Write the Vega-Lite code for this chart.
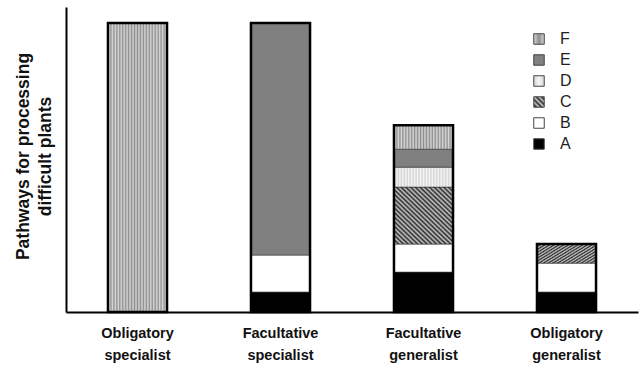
{
  "$schema": "https://vega.github.io/schema/vega-lite/v6.json",
  "width": 572,
  "height": 305,
  "autosize": {"type": "none"},
  "padding": {"left": 66, "top": 7, "right": 2, "bottom": 58},
  "background": "white",
  "config": {"view": {"stroke": null}, "font": "Liberation Sans"},
  "data": {
    "values": [
      {"group": "Obligatory specialist", "part": "F", "value": 10},
      {"group": "Facultative specialist", "part": "A", "value": 0.69},
      {"group": "Facultative specialist", "part": "B", "value": 1.28},
      {"group": "Facultative specialist", "part": "E", "value": 8.03},
      {"group": "Facultative generalist", "part": "A", "value": 1.38},
      {"group": "Facultative generalist", "part": "B", "value": 0.97},
      {"group": "Facultative generalist", "part": "C", "value": 1.97},
      {"group": "Facultative generalist", "part": "D", "value": 0.69},
      {"group": "Facultative generalist", "part": "E", "value": 0.62},
      {"group": "Facultative generalist", "part": "F", "value": 0.83},
      {"group": "Obligatory generalist", "part": "A", "value": 0.69},
      {"group": "Obligatory generalist", "part": "B", "value": 1.0},
      {"group": "Obligatory generalist", "part": "C", "value": 0.66}
    ]
  },
  "encoding": {
    "x": {
      "field": "group",
      "type": "nominal",
      "sort": ["Obligatory specialist", "Facultative specialist", "Facultative generalist", "Obligatory generalist"],
      "scale": {"paddingInner": 0.587, "paddingOuter": 0.2935},
      "axis": {
        "title": null,
        "labelAngle": 0,
        "ticks": false,
        "domainColor": "#000",
        "domainWidth": 2,
        "labelFontSize": 14.5,
        "labelFontWeight": "bold",
        "labelColor": "#111",
        "labelPadding": 14,
        "labelLineHeight": 22,
        "labelLimit": 0,
        "labelExpr": "split(datum.label, ' ')"
      }
    }
  },
  "layer": [
    {
      "mark": {"type": "bar", "stroke": "#333", "strokeWidth": 0.6},
      "encoding": {
        "y": {
          "field": "value",
          "type": "quantitative",
          "stack": "zero",
          "title": ["Pathways for processing", "difficult plants"],
          "scale": {"domain": [0, 10.55], "nice": false},
          "axis": {
            "labels": false,
            "ticks": false,
            "grid": false,
            "domainColor": "#000",
            "domainWidth": 2,
            "titleFontSize": 17.5,
            "titleFontWeight": "bold",
            "titleColor": "#111",
            "titlePadding": 12,
            "titleLineHeight": 22,
            "titleY": 149
          }
        },
        "color": {
          "field": "part",
          "type": "nominal",
          "scale": {
            "domain": ["F", "E", "D", "C", "B", "A"],
            "range": [
              {"expr": "{gradient:'linear',x1:0,y1:0,x2:1,y2:0,stops:[{offset:0,color:'#8f8f8f'},{offset:0.025,color:'#d9d9d9'},{offset:0.05,color:'#8f8f8f'},{offset:0.075,color:'#d9d9d9'},{offset:0.1,color:'#8f8f8f'},{offset:0.125,color:'#d9d9d9'},{offset:0.15,color:'#8f8f8f'},{offset:0.175,color:'#d9d9d9'},{offset:0.2,color:'#8f8f8f'},{offset:0.225,color:'#d9d9d9'},{offset:0.25,color:'#8f8f8f'},{offset:0.275,color:'#d9d9d9'},{offset:0.3,color:'#8f8f8f'},{offset:0.325,color:'#d9d9d9'},{offset:0.35,color:'#8f8f8f'},{offset:0.375,color:'#d9d9d9'},{offset:0.4,color:'#8f8f8f'},{offset:0.425,color:'#d9d9d9'},{offset:0.45,color:'#8f8f8f'},{offset:0.475,color:'#d9d9d9'},{offset:0.5,color:'#8f8f8f'},{offset:0.525,color:'#d9d9d9'},{offset:0.55,color:'#8f8f8f'},{offset:0.575,color:'#d9d9d9'},{offset:0.6,color:'#8f8f8f'},{offset:0.625,color:'#d9d9d9'},{offset:0.65,color:'#8f8f8f'},{offset:0.675,color:'#d9d9d9'},{offset:0.7,color:'#8f8f8f'},{offset:0.725,color:'#d9d9d9'},{offset:0.75,color:'#8f8f8f'},{offset:0.775,color:'#d9d9d9'},{offset:0.8,color:'#8f8f8f'},{offset:0.825,color:'#d9d9d9'},{offset:0.85,color:'#8f8f8f'},{offset:0.875,color:'#d9d9d9'},{offset:0.9,color:'#8f8f8f'},{offset:0.925,color:'#d9d9d9'},{offset:0.95,color:'#8f8f8f'},{offset:0.975,color:'#d9d9d9'},{offset:1,color:'#8f8f8f'}]}"},
              {"expr": "'#808080'"},
              {"expr": "{gradient:'linear',x1:0,y1:0,x2:1,y2:0,stops:[{offset:0,color:'#f5f5f5'},{offset:0.025,color:'#d4d4d4'},{offset:0.05,color:'#f5f5f5'},{offset:0.075,color:'#d4d4d4'},{offset:0.1,color:'#f5f5f5'},{offset:0.125,color:'#d4d4d4'},{offset:0.15,color:'#f5f5f5'},{offset:0.175,color:'#d4d4d4'},{offset:0.2,color:'#f5f5f5'},{offset:0.225,color:'#d4d4d4'},{offset:0.25,color:'#f5f5f5'},{offset:0.275,color:'#d4d4d4'},{offset:0.3,color:'#f5f5f5'},{offset:0.325,color:'#d4d4d4'},{offset:0.35,color:'#f5f5f5'},{offset:0.375,color:'#d4d4d4'},{offset:0.4,color:'#f5f5f5'},{offset:0.425,color:'#d4d4d4'},{offset:0.45,color:'#f5f5f5'},{offset:0.475,color:'#d4d4d4'},{offset:0.5,color:'#f5f5f5'},{offset:0.525,color:'#d4d4d4'},{offset:0.55,color:'#f5f5f5'},{offset:0.575,color:'#d4d4d4'},{offset:0.6,color:'#f5f5f5'},{offset:0.625,color:'#d4d4d4'},{offset:0.65,color:'#f5f5f5'},{offset:0.675,color:'#d4d4d4'},{offset:0.7,color:'#f5f5f5'},{offset:0.725,color:'#d4d4d4'},{offset:0.75,color:'#f5f5f5'},{offset:0.775,color:'#d4d4d4'},{offset:0.8,color:'#f5f5f5'},{offset:0.825,color:'#d4d4d4'},{offset:0.85,color:'#f5f5f5'},{offset:0.875,color:'#d4d4d4'},{offset:0.9,color:'#f5f5f5'},{offset:0.925,color:'#d4d4d4'},{offset:0.95,color:'#f5f5f5'},{offset:0.975,color:'#d4d4d4'},{offset:1,color:'#f5f5f5'}]}"},
              {"expr": "{gradient:'linear',x1:0,y1:1,x2:1,y2:0,stops:[{offset:0,color:'#2a2a2a'},{offset:0.02,color:'#c8c8c8'},{offset:0.04,color:'#2a2a2a'},{offset:0.06,color:'#c8c8c8'},{offset:0.08,color:'#2a2a2a'},{offset:0.1,color:'#c8c8c8'},{offset:0.12,color:'#2a2a2a'},{offset:0.14,color:'#c8c8c8'},{offset:0.16,color:'#2a2a2a'},{offset:0.18,color:'#c8c8c8'},{offset:0.2,color:'#2a2a2a'},{offset:0.22,color:'#c8c8c8'},{offset:0.24,color:'#2a2a2a'},{offset:0.26,color:'#c8c8c8'},{offset:0.28,color:'#2a2a2a'},{offset:0.3,color:'#c8c8c8'},{offset:0.32,color:'#2a2a2a'},{offset:0.34,color:'#c8c8c8'},{offset:0.36,color:'#2a2a2a'},{offset:0.38,color:'#c8c8c8'},{offset:0.4,color:'#2a2a2a'},{offset:0.42,color:'#c8c8c8'},{offset:0.44,color:'#2a2a2a'},{offset:0.46,color:'#c8c8c8'},{offset:0.48,color:'#2a2a2a'},{offset:0.5,color:'#c8c8c8'},{offset:0.52,color:'#2a2a2a'},{offset:0.54,color:'#c8c8c8'},{offset:0.56,color:'#2a2a2a'},{offset:0.58,color:'#c8c8c8'},{offset:0.6,color:'#2a2a2a'},{offset:0.62,color:'#c8c8c8'},{offset:0.64,color:'#2a2a2a'},{offset:0.66,color:'#c8c8c8'},{offset:0.68,color:'#2a2a2a'},{offset:0.7,color:'#c8c8c8'},{offset:0.72,color:'#2a2a2a'},{offset:0.74,color:'#c8c8c8'},{offset:0.76,color:'#2a2a2a'},{offset:0.78,color:'#c8c8c8'},{offset:0.8,color:'#2a2a2a'},{offset:0.82,color:'#c8c8c8'},{offset:0.84,color:'#2a2a2a'},{offset:0.86,color:'#c8c8c8'},{offset:0.88,color:'#2a2a2a'},{offset:0.9,color:'#c8c8c8'},{offset:0.92,color:'#2a2a2a'},{offset:0.94,color:'#c8c8c8'},{offset:0.96,color:'#2a2a2a'},{offset:0.98,color:'#c8c8c8'},{offset:1,color:'#2a2a2a'}]}"},
              {"expr": "'#ffffff'"},
              {"expr": "'#000000'"}
            ]
          },
          "legend": {
            "title": null,
            "orient": "none",
            "legendX": 465,
            "legendY": 24,
            "symbolType": "square",
            "symbolSize": 110,
            "symbolStrokeColor": "#444",
            "symbolStrokeWidth": 1,
            "symbolOpacity": 1,
            "labelFontSize": 16,
            "labelColor": "#222",
            "labelOffset": 13,
            "rowPadding": 5,
            "padding": 0
          }
        },
        "order": {"field": "part", "sort": "ascending"}
      }
    },
    {
      "mark": {"type": "bar", "filled": false, "stroke": "#000", "strokeWidth": 2.5},
      "encoding": {
        "y": {
          "aggregate": "sum",
          "field": "value",
          "type": "quantitative",
          "title": ["Pathways for processing", "difficult plants"]
        }
      }
    }
  ]
}
